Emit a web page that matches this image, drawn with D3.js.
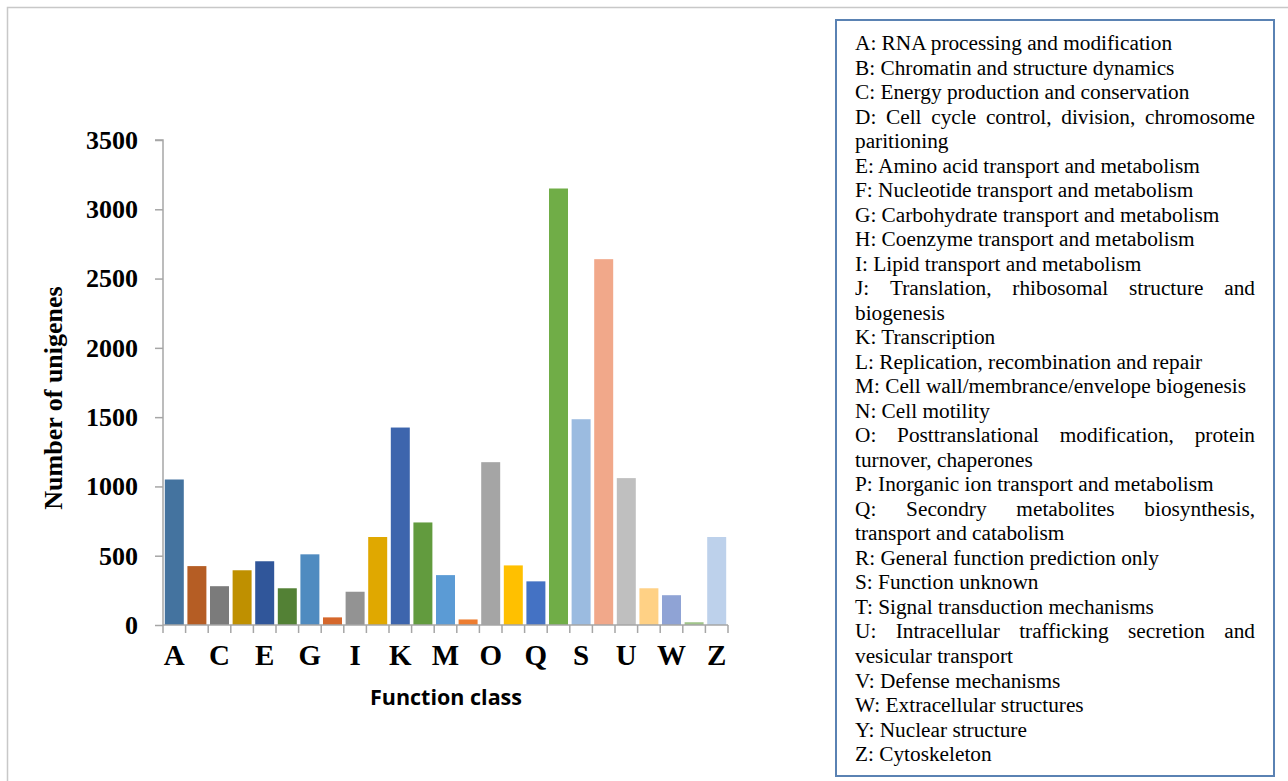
<!DOCTYPE html>
<html><head><meta charset="utf-8">
<script src="https://cdn.jsdelivr.net/npm/d3@7"></script>
<style>body{margin:0;background:#fff}</style>
</head><body>
<script>
const categories = ["A","B","C","D","E","F","G","H","I","J","K","L","M","N","O","P","Q","R","S","T","U","V","W","Y","Z"];
const values = [1050,425,280,395,460,265,510,55,240,635,1425,740,360,40,1175,430,315,3150,1485,2640,1060,265,215,20,635];
const colors = ["#44739f","#b55d24","#7b7b7b","#bf9000","#30569a","#538135","#4f8bc0","#d5672b","#939393","#e0a800","#3d65ad","#629b3e","#5b9bd5","#ed7d31","#a5a5a5","#ffc000","#4472c4","#70ad47","#9bbbe0","#f1a88a","#bfbfbf","#ffd185","#8fa3d5","#a0c48a","#bdd1eb"];
const yTicks = [0,500,1000,1500,2000,2500,3000,3500];
const legendItems = [
 ["A: RNA processing and modification"],
 ["B: Chromatin and structure dynamics"],
 ["C: Energy production and conservation"],
 ["D: Cell cycle control, division, chromosome","paritioning"],
 ["E: Amino acid transport and metabolism"],
 ["F: Nucleotide transport and metabolism"],
 ["G: Carbohydrate transport and metabolism"],
 ["H: Coenzyme transport and metabolism"],
 ["I: Lipid transport and metabolism"],
 ["J: Translation, rhibosomal structure and","biogenesis"],
 ["K: Transcription"],
 ["L: Replication, recombination and repair"],
 ["M: Cell wall/membrance/envelope biogenesis"],
 ["N: Cell motility"],
 ["O: Posttranslational modification, protein","turnover, chaperones"],
 ["P: Inorganic ion transport and metabolism"],
 ["Q: Secondry metabolites biosynthesis,","transport and catabolism"],
 ["R: General function prediction only"],
 ["S: Function unknown"],
 ["T: Signal transduction mechanisms"],
 ["U: Intracellular trafficking secretion and","vesicular transport"],
 ["V: Defense mechanisms"],
 ["W: Extracellular structures"],
 ["Y: Nuclear structure"],
 ["Z: Cytoskeleton"]
];

const W = 1288, H = 781;
const svg = d3.select("body").append("svg").attr("width", W).attr("height", H);

// outer frame
svg.append("rect").attr("x",7.5).attr("y",7.5).attr("width",W).attr("height",H)
  .attr("fill","none").attr("stroke","#c8c8c8").attr("stroke-width",1.5);

const m = {left:163, right:728, top:140, bottom:625};
const x = d3.scaleBand().domain(categories).range([m.left, m.right]).paddingInner(0.16).paddingOuter(0.08);
const y = d3.scaleLinear().domain([0,3500]).range([m.bottom, m.top]);

const g = svg.append("g");
g.selectAll("rect.bar").data(categories).join("rect")
  .attr("class","bar")
  .attr("x", d => x(d))
  .attr("width", x.bandwidth())
  .attr("y", (d,i) => y(values[i]))
  .attr("height", (d,i) => y(0) - y(values[i]))
  .attr("fill", (d,i) => colors[i]);

// y axis
const yAxis = d3.axisLeft(y).tickValues(yTicks).tickSize(8).tickPadding(17).tickFormat(d3.format("d"));
const ya = svg.append("g").attr("transform",`translate(${m.left},0)`).call(yAxis);
ya.select(".domain").attr("stroke","#a6a6a6").attr("stroke-width",1.5).attr("d",`M-8,${m.top}H0V${m.bottom}`);
ya.selectAll(".tick line").attr("stroke","#a6a6a6").attr("stroke-width",1.5);
ya.selectAll(".tick text").attr("font-family","'Liberation Serif', serif").attr("font-weight","bold")
  .attr("font-size",26).attr("fill","#000");

// x axis
const xa = svg.append("g").attr("transform",`translate(0,${m.bottom})`);
xa.append("path").attr("d",`M${m.left},0H${m.right}`).attr("stroke","#a6a6a6").attr("stroke-width",1.5).attr("fill","none");
const boundaries = d3.range(categories.length+1).map(i => m.left + i*(m.right-m.left)/categories.length);
xa.selectAll("line.tk").data(boundaries).join("line").attr("class","tk")
  .attr("x1",d=>d).attr("x2",d=>d).attr("y1",0).attr("y2",8)
  .attr("stroke","#a6a6a6").attr("stroke-width",1.5);
xa.selectAll("text.lbl").data(categories.filter((d,i)=>i%2===0)).join("text").attr("class","lbl")
  .attr("x", d => x(d) + x.bandwidth()/2)
  .attr("y", 40)
  .attr("text-anchor","middle")
  .attr("font-family","'Liberation Serif', serif").attr("font-weight","bold").attr("font-size",29)
  .text(d=>d);

// axis titles
svg.append("text").attr("transform","translate(62,398) rotate(-90)")
  .attr("text-anchor","middle").attr("font-family","'Liberation Serif', serif")
  .attr("font-weight","bold").attr("font-size",26).text("Number of unigenes");
svg.append("text").attr("x",446).attr("y",705).attr("text-anchor","middle")
  .attr("font-family","'Open Sans', sans-serif").attr("font-weight","bold").attr("font-size",21.5)
  .text("Function class");

// legend box
svg.append("rect").attr("x",836).attr("y",20).attr("width",438).attr("height",756)
  .attr("fill","#fff").attr("stroke","#5a82b3").attr("stroke-width",2);
const lx0 = 855, lx1 = 1255, ly0 = 50, lh = 24.52;
let line = 0;
const lg = svg.append("g").attr("font-family","'Liberation Serif', serif").attr("font-size",21.3).attr("fill","#000");
legendItems.forEach(item => {
  item.forEach((txt, li) => {
    const yy = ly0 + line*lh;
    const justify = item.length > 1 && li === 0;
    if (!justify) {
      lg.append("text").attr("x",lx0).attr("y",yy).text(txt);
    } else {
      const words = txt.split(" ");
      const nodes = words.map(w => lg.append("text").attr("y",yy).text(w));
      const widths = nodes.map(n => n.node().getComputedTextLength());
      const total = d3.sum(widths);
      const gap = (lx1 - lx0 - total)/(words.length-1);
      let cx = lx0;
      nodes.forEach((n,k) => { n.attr("x",cx); cx += widths[k] + gap; });
    }
    line++;
  });
});
</script>
</body></html>
